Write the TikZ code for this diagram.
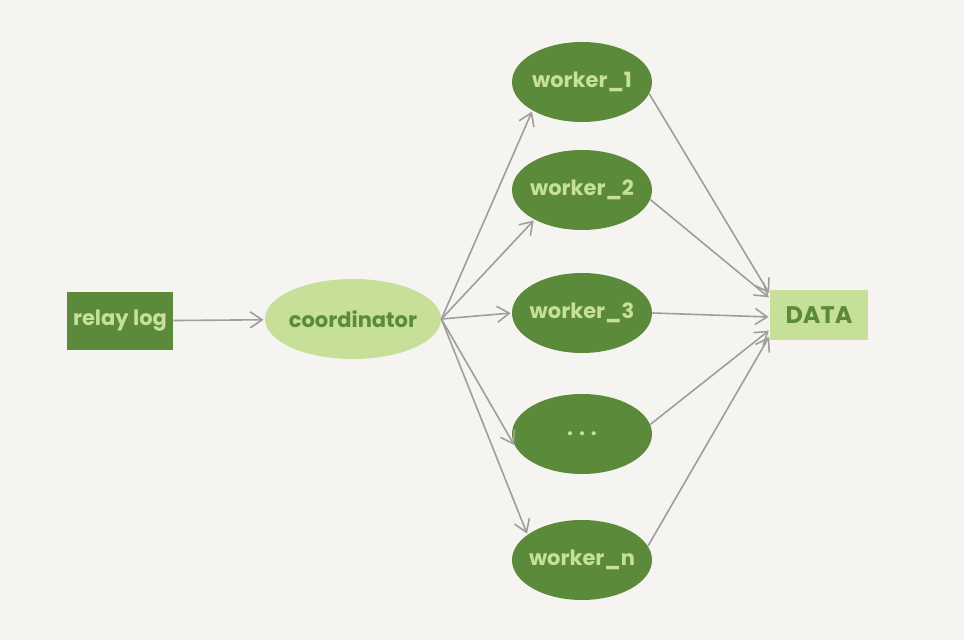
\documentclass[tikz,border=0pt]{standalone}
\usepackage{fontspec}
\setmainfont{Poppins}
\usetikzlibrary{arrows.meta,shapes.geometric}
\definecolor{paper}{HTML}{F5F4F0}
\definecolor{leaf}{HTML}{5B8A3A}
\definecolor{sprout}{HTML}{C6E09A}
\definecolor{wire}{HTML}{9E9E9E}

\begin{document}
\begin{tikzpicture}[x=.5pt,y=-.5pt,
  label/.style={font=\bfseries\fontsize{10.5}{12}\selectfont},
  worker/.style={ellipse,fill=leaf,text=sprout,label,minimum width=70pt,minimum height=40pt,inner sep=-4pt},
  link/.style={-{Straight Barb[length=6pt,width=8pt]},wire,line width=.8pt,shorten >=.5pt}]
  \fill[paper] (0,0) rectangle (964,640);
  \node[fill=leaf,text=sprout,label,minimum width=53pt,minimum height=29pt,inner sep=0pt] (relay) at (120,321){relay log};
  \node[ellipse,fill=sprout,text=leaf,label,minimum width=88pt,minimum height=40pt,inner sep=-2pt] (coord) at (353,319){coordinator};
  \node[worker] (w1) at (582,82){worker\_1};
  \node[worker] (w2) at (582,190){worker\_2};
  \node[worker] (w3) at (582,313){worker\_3};
  \node[worker] (wdots) at (582,434){. . .};
  \node[worker] (wn) at (582,560){worker\_n};
  \node[fill=sprout,text=leaf,label,font=\bfseries\fontsize{12}{14}\selectfont,minimum width=49pt,minimum height=25pt,inner sep=0pt] (data) at (819,315){DATA};
  \draw[link] (relay) -- (coord);
  \draw[link] (coord.east) -- (w1.210);
  \draw[link] (coord.east) -- (w2.212);
  \draw[link] (coord.east) -- (w3.west);
  \draw[link] (coord.east) -- (wdots.190);
  \draw[link] (coord.east) -- (wn.155);
  \draw[link] (w1.-10) -- ([yshift=10.5pt]data.west);
  \draw[link] (w2.-8) -- ([yshift=8.5pt]data.west);
  \draw[link] (w3.east) -- ([yshift=-1pt]data.west);
  \draw[link] (wdots.8) -- ([yshift=-7.5pt]data.west);
  \draw[link] (wn.12) -- ([yshift=-10.5pt]data.west);
\end{tikzpicture}
\end{document}
